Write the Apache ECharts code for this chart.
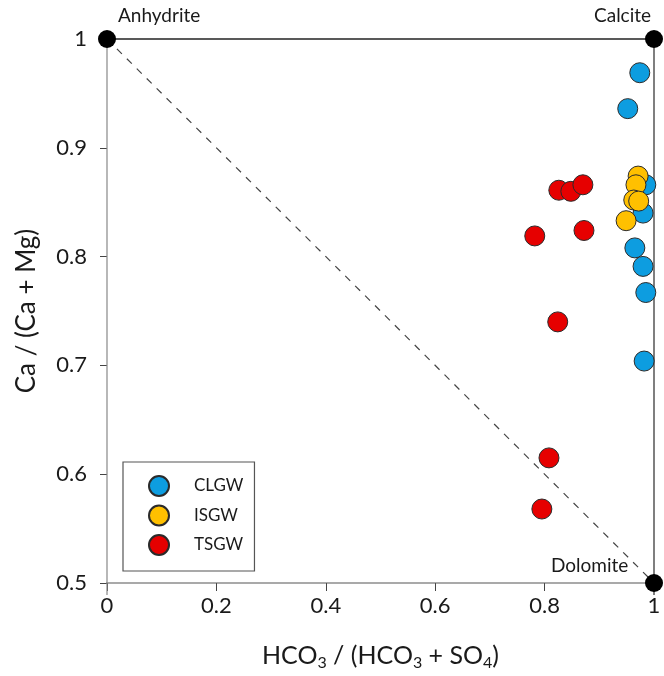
<!DOCTYPE html>
<html>
<head>
<meta charset="utf-8">
<script src="https://cdn.jsdelivr.net/npm/echarts@6/dist/echarts.min.js"></script>
<style>html,body{margin:0;padding:0;background:#fff}#c{width:664px;height:676px}</style>
</head>
<body>
<div id="c"></div>
<script>
// Data: [HCO3/(HCO3+SO4), Ca/(Ca+Mg)]
const clgw = [[0.974,0.969],[0.952,0.936],[0.985,0.866],[0.980,0.840],[0.965,0.808],[0.980,0.791],[0.985,0.767],[0.982,0.704]];
const isgw = [[0.971,0.874],[0.967,0.866],[0.963,0.852],[0.972,0.851],[0.949,0.833]];
const tsgw = [[0.826,0.861],[0.848,0.860],[0.870,0.866],[0.872,0.824],[0.782,0.819],[0.824,0.740],[0.808,0.615],[0.795,0.568]];
const endMembers = [[0,1,'Anhydrite'],[1,1,'Calcite'],[1,0.5,'Dolomite']];
const xTicks = [0,0.2,0.4,0.6,0.8,1];
const yTicks = [0.5,0.6,0.7,0.8,0.9,1];

const font = 'Lato, "Open Sans", sans-serif';
const chart = echarts.init(document.getElementById('c'));
const ptStyle = (c) => ({color: c, borderColor: '#2a2a2a', borderWidth: 1, opacity: 1});
const lineSeries = (data, color, type, width) => ({
  type: 'line', data: data, symbol: 'none', silent: true, clip: false, z: 1,
  lineStyle: {color: color, width: width, type: type}, animation: false
});
const labelPos = [[20, -24], [-51, -24], [-94, -18]];
chart.setOption({
  animation: false,
  textStyle: {fontFamily: font},
  grid: {left: 107, right: 10, top: 39, bottom: 93},
  xAxis: {
    type: 'value', min: xTicks[0], max: xTicks[xTicks.length-1], interval: 0.2,
    splitLine: {show: false},
    axisLine: {show: false},
    axisTick: {show: true, inside: false, length: 8, lineStyle: {color: '#444'}},
    axisLabel: {fontSize: 22, color: '#1a1a1a', margin: 12, fontFamily: font},
    name: 'HCO{sub|3} / (HCO{sub|3} + SO{sub|4})',
    nameLocation: 'middle', nameGap: 58,
    nameTextStyle: {fontSize: 25, color: '#1a1a1a', fontFamily: font,
      rich: {sub: {fontSize: 16, verticalAlign: 'bottom', padding: [14,0,0,0], color: '#1a1a1a', fontFamily: font}}}
  },
  yAxis: {
    type: 'value', min: yTicks[0], max: yTicks[yTicks.length-1], interval: 0.1,
    splitLine: {show: false},
    axisLine: {show: false},
    axisTick: {show: true, inside: false, length: 7, lineStyle: {color: '#444'}},
    axisLabel: {fontSize: 22, color: '#1a1a1a', margin: 20, fontFamily: font},
    name: 'Ca / (Ca + Mg)', nameLocation: 'middle', nameGap: 67, nameRotate: 90,
    nameTextStyle: {fontSize: 26, color: '#1a1a1a', fontFamily: font}
  },
  legend: {
    data: ['CLGW','ISGW','TSGW'],
    orient: 'vertical', left: 123, top: 462,
    padding: [13, 11, 15, 25],
    itemWidth: 20, itemHeight: 20, itemGap: 7.5,
    borderColor: '#555', borderWidth: 1.2,
    icon: 'circle',
    textStyle: {fontSize: 17, color: '#1a1a1a', fontFamily: font, padding: [0,0,0,20]}
  },
  series: [
    lineSeries([[-0.02,0.5],[1,0.5]], '#555', 'solid', 1.2),
    lineSeries([[0,1],[0,0.489]], '#888', 'solid', 1.2),
    lineSeries([[0,1],[1,1]], '#222', 'solid', 1.3),
    lineSeries([[1,1],[1,0.489]], '#555', 'solid', 1.5),
    lineSeries([[0,1],[1,0.5]], '#444', [7,7], 1.2),
    {name: 'CLGW', type: 'scatter', data: clgw, symbolSize: 20, itemStyle: ptStyle('#0d9de0'), z: 3},
    {name: 'ISGW', type: 'scatter', data: isgw, symbolSize: 20, itemStyle: ptStyle('#ffc000'), z: 4},
    {name: 'TSGW', type: 'scatter', data: tsgw, symbolSize: 20, itemStyle: ptStyle('#e60000'), z: 3},
    {name: 'end', type: 'scatter', symbolSize: 18, z: 5, clip: false,
     itemStyle: {color: '#000', opacity: 1},
     data: endMembers.map((d, i) => ({
       value: [d[0], d[1]],
       label: {show: true, formatter: d[2], fontSize: 19, color: '#1a1a1a', fontFamily: font,
         position: labelPos[i]}
     }))}
  ]
});
</script>
</body>
</html>
